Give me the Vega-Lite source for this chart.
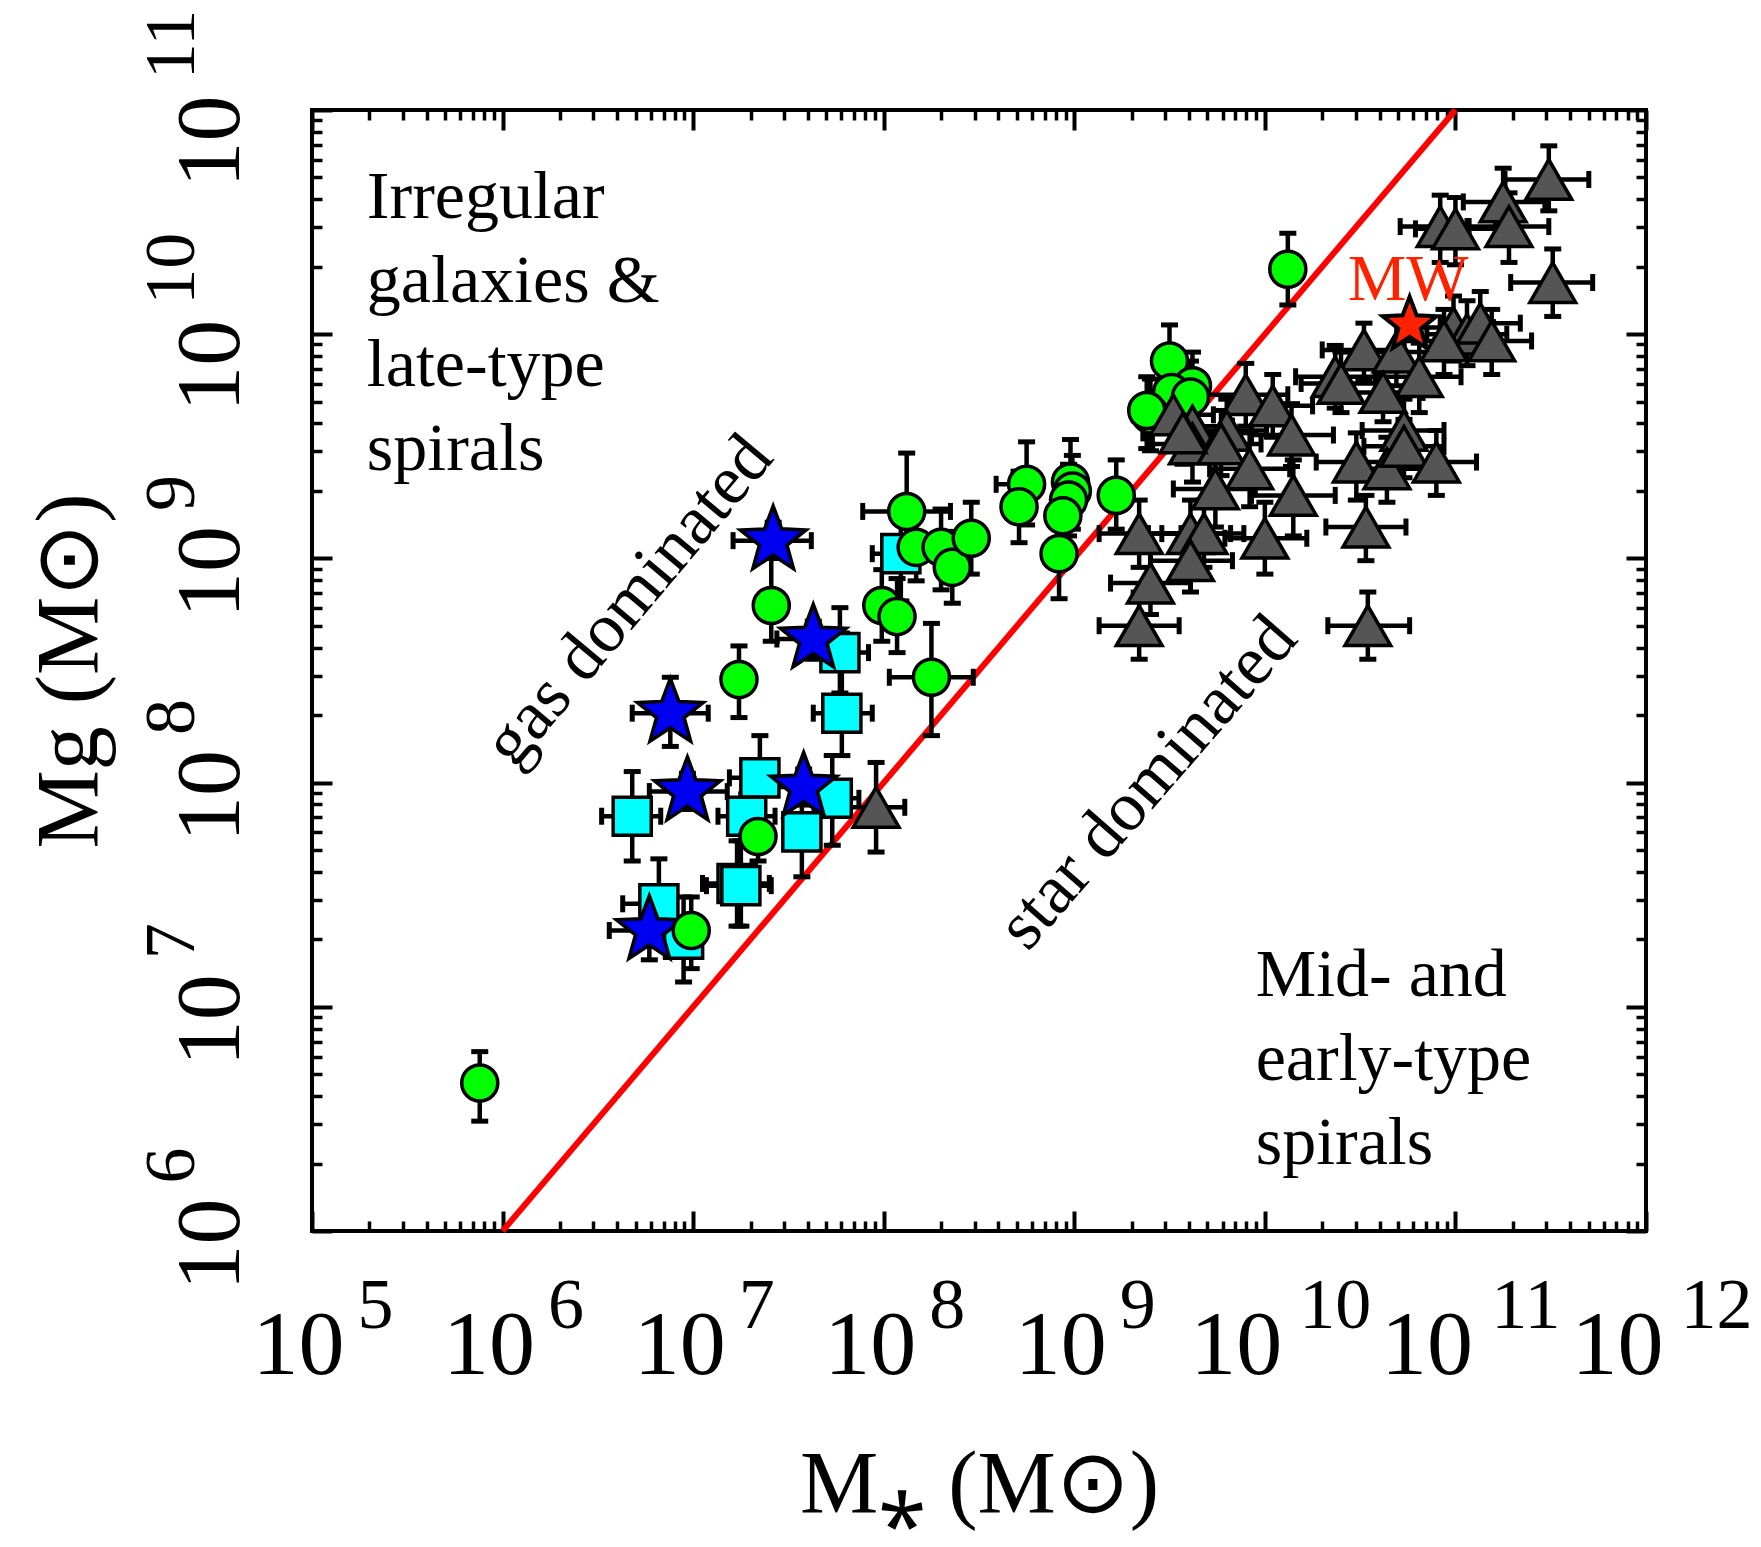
{
  "$schema": "https://vega.github.io/schema/vega-lite/v6.json",
  "width": 1334,
  "height": 1121,
  "autosize": {"type": "none"},
  "padding": {"left": 312, "top": 110, "right": 115, "bottom": 316},
  "background": "white",
  "config": {"view": {"stroke": "black", "strokeWidth": 4, "fill": "white"}},
  "datasets": {
    "galaxies": [
      {"t":"sq","x":5.89e7,"y":3.80e8,"xl":4.17e7,"xh":8.32e7,"yl":2.51e8,"yh":6.03e8},
      {"t":"sq","x":6.03e7,"y":2.04e8,"xl":4.27e7,"xh":8.71e7,"yl":1.32e8,"yh":3.24e8},
      {"t":"sq","x":4.79e6,"y":7.08e7,"xl":3.31e6,"xh":6.76e6,"yl":4.47e7,"yh":1.12e8},
      {"t":"sq","x":2.24e7,"y":1.05e8,"xl":1.55e7,"xh":2.75e7,"yl":6.61e7,"yh":1.62e8},
      {"t":"sq","x":5.37e7,"y":8.51e7,"xl":3.98e7,"xh":7.41e7,"yl":5.25e7,"yh":1.32e8},
      {"t":"sq","x":1.91e7,"y":7.08e7,"xl":1.35e7,"xh":2.69e7,"yl":5.62e7,"yh":8.91e7},
      {"t":"sq","x":3.72e7,"y":6.03e7,"xl":3.31e7,"xh":4.17e7,"yl":3.80e7,"yh":9.55e7},
      {"t":"sq","x":1.70e7,"y":3.55e7,"xl":1.12e7,"xh":2.51e7,"yl":2.29e7,"yh":5.50e7},
      {"t":"sq","x":1.78e7,"y":3.47e7,"xl":1.175e7,"xh":2.57e7,"yl":2.29e7,"yh":5.50e7},
      {"t":"sq","x":6.61e6,"y":2.88e7,"xl":4.27e6,"xh":7.94e6,"yl":1.86e7,"yh":4.57e7},
      {"t":"sq","x":8.91e6,"y":2.00e7,"xl":7.94e6,"xh":9.77e6,"yl":1.29e7,"yh":3.09e7},
      {"t":"sq","x":1.23e8,"y":1.05e9,"xl":8.71e7,"xh":1.74e8,"yl":6.46e8,"yh":1.585e9},
      {"t":"star","x":2.63e7,"y":1.20e9,"xl":1.62e7,"xh":4.17e7,"yl":1.00e9,"yh":1.45e9},
      {"t":"star","x":4.27e7,"y":4.37e8,"xl":2.75e7,"xh":6.46e7,"yl":3.55e8,"yh":5.25e8},
      {"t":"star","x":7.59e6,"y":2.04e8,"xl":4.79e6,"xh":1.20e7,"yl":1.45e8,"yh":2.95e8},
      {"t":"star","x":9.33e6,"y":9.12e7,"xl":5.89e6,"xh":1.51e7,"yl":7.59e7,"yh":1.10e8},
      {"t":"star","x":3.80e7,"y":9.55e7,"xl":2.63e7,"xh":5.62e7,"yl":7.94e7,"yh":1.15e8},
      {"t":"star","x":5.89e6,"y":2.19e7,"xl":3.63e6,"xh":9.55e6,"yl":1.62e7,"yh":2.95e7},
      {"t":"gc","x":7.59e5,"y":4.57e6,"xl":6.92e5,"xh":8.32e5,"yl":3.09e6,"yh":6.31e6},
      {"t":"gc","x":2.57e7,"y":6.17e8,"xl":2.34e7,"xh":2.82e7,"yl":4.27e8,"yh":1.00e9},
      {"t":"gc","x":1.74e7,"y":2.88e8,"xl":1.585e7,"xh":1.91e7,"yl":1.95e8,"yh":4.07e8},
      {"t":"gc","x":2.19e7,"y":5.75e7,"xl":2.00e7,"xh":2.40e7,"yl":4.47e7,"yh":7.24e7},
      {"t":"gc","x":9.77e6,"y":2.19e7,"xl":8.91e6,"xh":1.07e7,"yl":1.48e7,"yh":3.09e7},
      {"t":"gc","x":1.32e8,"y":1.62e9,"xl":7.76e7,"xh":2.24e8,"yl":9.12e8,"yh":2.95e9},
      {"t":"gc","x":1.48e8,"y":1.12e9,"xl":1.35e8,"xh":1.62e8,"yl":7.94e8,"yh":1.585e9},
      {"t":"gc","x":2.00e8,"y":1.12e9,"xl":1.82e8,"xh":2.19e8,"yl":7.24e8,"yh":1.66e9},
      {"t":"gc","x":2.29e8,"y":9.12e8,"xl":2.09e8,"xh":2.51e8,"yl":6.31e8,"yh":1.32e9},
      {"t":"gc","x":2.88e8,"y":1.23e9,"xl":2.57e8,"xh":3.16e8,"yl":8.51e8,"yh":1.78e9},
      {"t":"gc","x":9.77e7,"y":6.17e8,"xl":8.91e7,"xh":1.07e8,"yl":4.27e8,"yh":8.91e8},
      {"t":"gc","x":1.175e8,"y":5.50e8,"xl":1.07e8,"xh":1.29e8,"yl":3.80e8,"yh":8.13e8},
      {"t":"gc","x":1.78e8,"y":2.95e8,"xl":1.07e8,"xh":2.95e8,"yl":1.62e8,"yh":5.13e8},
      {"t":"gc","x":5.62e8,"y":2.14e9,"xl":3.89e8,"xh":6.31e8,"yl":1.41e9,"yh":3.31e9},
      {"t":"gc","x":5.13e8,"y":1.70e9,"xl":4.57e8,"xh":5.62e8,"yl":1.175e9,"yh":2.45e9},
      {"t":"gc","x":9.55e8,"y":2.19e9,"xl":8.51e8,"xh":1.05e9,"yl":1.41e9,"yh":3.39e9},
      {"t":"gc","x":9.77e8,"y":2.00e9,"xl":8.91e8,"xh":1.10e9,"yl":1.35e9,"yh":2.88e9},
      {"t":"gc","x":9.33e8,"y":1.82e9,"xl":8.51e8,"xh":1.02e9,"yl":1.26e9,"yh":2.63e9},
      {"t":"gc","x":8.71e8,"y":1.55e9,"xl":7.76e8,"xh":9.55e8,"yl":1.07e9,"yh":2.29e9},
      {"t":"gc","x":8.32e8,"y":1.05e9,"xl":7.59e8,"xh":9.33e8,"yl":6.61e8,"yh":1.585e9},
      {"t":"gc","x":1.66e9,"y":1.91e9,"xl":1.51e9,"xh":1.82e9,"yl":1.35e9,"yh":2.75e9},
      {"t":"gc","x":1.32e10,"y":1.95e10,"xl":1.20e10,"xh":1.45e10,"yl":1.35e10,"yh":2.82e10},
      {"t":"gc","x":3.16e9,"y":7.59e9,"xl":2.88e9,"xh":3.47e9,"yl":5.25e9,"yh":1.10e10},
      {"t":"gc","x":4.17e9,"y":5.89e9,"xl":3.80e9,"xh":4.57e9,"yl":3.98e9,"yh":8.32e9},
      {"t":"gc","x":3.24e9,"y":5.50e9,"xl":2.95e9,"xh":3.55e9,"yl":3.80e9,"yh":7.94e9},
      {"t":"gc","x":4.07e9,"y":5.25e9,"xl":3.63e9,"xh":4.47e9,"yl":3.63e9,"yh":7.59e9},
      {"t":"gc","x":2.51e9,"y":4.37e9,"xl":2.29e9,"xh":2.75e9,"yl":3.02e9,"yh":6.31e9},
      {"t":"gc","x":2.40e9,"y":4.57e9,"xl":2.19e9,"xh":2.63e9,"yl":3.09e9,"yh":6.46e9},
      {"t":"tri","x":3.09e11,"y":4.90e10,"xl":1.82e11,"xh":5.01e11,"yl":3.55e10,"yh":6.92e10},
      {"t":"tri","x":1.78e11,"y":3.89e10,"xl":1.10e11,"xh":2.95e11,"yl":2.82e10,"yh":5.50e10},
      {"t":"tri","x":1.91e11,"y":3.02e10,"xl":1.18e11,"xh":3.09e11,"yl":2.09e10,"yh":4.27e10},
      {"t":"tri","x":8.32e10,"y":3.02e10,"xl":5.13e10,"xh":1.15e11,"yl":2.09e10,"yh":4.17e10},
      {"t":"tri","x":1.00e11,"y":2.95e10,"xl":6.17e10,"xh":1.62e11,"yl":2.04e10,"yh":4.07e10},
      {"t":"tri","x":3.24e11,"y":1.70e10,"xl":1.95e11,"xh":5.25e11,"yl":1.20e10,"yh":2.40e10},
      {"t":"tri","x":9.77e10,"y":1.07e10,"xl":6.03e10,"xh":1.585e11,"yl":7.59e9,"yh":1.48e10},
      {"t":"tri","x":1.15e11,"y":1.00e10,"xl":7.08e10,"xh":1.86e11,"yl":7.24e9,"yh":1.41e10},
      {"t":"tri","x":1.35e11,"y":1.12e10,"xl":8.32e10,"xh":2.19e11,"yl":7.94e9,"yh":1.55e10},
      {"t":"tri","x":1.55e11,"y":9.33e9,"xl":9.55e10,"xh":2.51e11,"yl":6.61e9,"yh":1.29e10},
      {"t":"tri","x":8.71e10,"y":9.33e9,"xl":5.37e10,"xh":1.45e11,"yl":6.61e9,"yh":1.29e10},
      {"t":"tri","x":3.31e10,"y":8.51e9,"xl":2.00e10,"xh":5.37e10,"yl":6.17e9,"yh":1.12e10},
      {"t":"tri","x":2.34e10,"y":6.46e9,"xl":1.45e10,"xh":3.80e10,"yl":4.68e9,"yh":8.91e9},
      {"t":"tri","x":2.51e10,"y":6.03e9,"xl":1.55e10,"xh":4.07e10,"yl":4.47e9,"yh":8.32e9},
      {"t":"tri","x":4.90e10,"y":8.32e9,"xl":3.02e10,"xh":7.94e10,"yl":5.89e9,"yh":1.15e10},
      {"t":"tri","x":6.46e10,"y":6.46e9,"xl":3.98e10,"xh":1.07e11,"yl":4.47e9,"yh":9.12e9},
      {"t":"tri","x":4.17e10,"y":5.50e9,"xl":2.57e10,"xh":6.76e10,"yl":4.07e9,"yh":7.41e9},
      {"t":"tri","x":7.94e9,"y":5.37e9,"xl":4.90e9,"xh":1.32e10,"yl":3.89e9,"yh":7.41e9},
      {"t":"tri","x":1.10e10,"y":4.79e9,"xl":6.76e9,"xh":1.78e10,"yl":3.47e9,"yh":6.61e9},
      {"t":"tri","x":1.38e10,"y":3.55e9,"xl":8.51e9,"xh":2.29e10,"yl":2.57e9,"yh":4.90e9},
      {"t":"tri","x":4.17e9,"y":3.89e9,"xl":2.57e9,"xh":6.76e9,"yl":2.82e9,"yh":5.37e9},
      {"t":"tri","x":6.31e9,"y":3.72e9,"xl":3.89e9,"xh":1.02e10,"yl":2.69e9,"yh":5.13e9},
      {"t":"tri","x":5.37e10,"y":3.72e9,"xl":3.24e10,"xh":8.71e10,"yl":2.63e9,"yh":5.13e9},
      {"t":"tri","x":4.17e9,"y":3.24e9,"xl":2.57e9,"xh":6.76e9,"yl":2.19e9,"yh":4.57e9},
      {"t":"tri","x":5.89e9,"y":3.24e9,"xl":3.55e9,"xh":9.55e9,"yl":2.34e9,"yh":4.57e9},
      {"t":"tri","x":8.32e9,"y":2.51e9,"xl":5.13e9,"xh":1.35e10,"yl":1.70e9,"yh":3.63e9},
      {"t":"tri","x":5.50e9,"y":2.04e9,"xl":3.31e9,"xh":8.91e9,"yl":1.38e9,"yh":2.95e9},
      {"t":"tri","x":1.41e10,"y":1.91e9,"xl":8.51e9,"xh":2.34e10,"yl":1.26e9,"yh":2.75e9},
      {"t":"tri","x":3.02e10,"y":2.69e9,"xl":1.86e10,"xh":4.90e10,"yl":1.82e9,"yh":3.63e9},
      {"t":"tri","x":4.37e10,"y":2.51e9,"xl":2.63e10,"xh":7.08e10,"yl":1.78e9,"yh":3.47e9},
      {"t":"tri","x":5.37e10,"y":3.16e9,"xl":3.31e10,"xh":8.71e10,"yl":2.29e9,"yh":4.17e9},
      {"t":"tri","x":7.94e10,"y":2.69e9,"xl":4.90e10,"xh":1.29e11,"yl":1.91e9,"yh":3.72e9},
      {"t":"tri","x":3.39e10,"y":1.38e9,"xl":2.09e10,"xh":5.50e10,"yl":9.77e8,"yh":1.91e9},
      {"t":"tri","x":2.19e9,"y":1.29e9,"xl":1.35e9,"xh":3.63e9,"yl":9.12e8,"yh":1.82e9},
      {"t":"tri","x":4.07e9,"y":1.29e9,"xl":2.45e9,"xh":6.61e9,"yl":9.12e8,"yh":1.82e9},
      {"t":"tri","x":4.79e9,"y":1.29e9,"xl":2.88e9,"xh":7.76e9,"yl":9.12e8,"yh":1.82e9},
      {"t":"tri","x":4.07e9,"y":9.77e8,"xl":2.51e9,"xh":6.76e9,"yl":7.08e8,"yh":1.38e9},
      {"t":"tri","x":1.00e10,"y":1.23e9,"xl":6.17e9,"xh":1.66e10,"yl":8.51e8,"yh":1.78e9},
      {"t":"tri","x":2.51e9,"y":7.76e8,"xl":1.55e9,"xh":4.07e9,"yl":5.62e8,"yh":1.07e9},
      {"t":"tri","x":2.19e9,"y":5.01e8,"xl":1.35e9,"xh":3.55e9,"yl":3.55e8,"yh":7.08e8},
      {"t":"tri","x":3.47e10,"y":5.01e8,"xl":2.14e10,"xh":5.75e10,"yl":3.55e8,"yh":7.08e8},
      {"t":"tri","x":9.12e7,"y":7.76e7,"xl":6.46e7,"xh":1.29e8,"yl":4.90e7,"yh":1.23e8},
      {"t":"tri","x":3.31e9,"y":4.37e9,"xl":2.04e9,"xh":5.37e9,"yl":3.09e9,"yh":6.03e9},
      {"t":"tri","x":3.72e9,"y":3.63e9,"xl":2.29e9,"xh":6.03e9,"yl":2.63e9,"yh":5.01e9},
      {"t":"mw","x":5.75e10,"y":1.10e10}
    ]
  },
  "data": {"name": "galaxies"},
  "resolve": {"axis": {"x": "independent", "y": "independent"}},
  "layer": [
    {
      "data": {"values": [{"ms": 1e6, "mg": 1e6}, {"ms": 1e11, "mg": 1e11}]},
      "mark": {"type": "line", "color": "#ff0000", "strokeWidth": 6},
      "encoding": {
        "x": {"field": "ms", "type": "quantitative", "scale": {"type": "log", "domain": [1e5, 1e12], "nice": false},
          "axis": {"orient": "bottom", "values": [1e5,1e6,1e7,1e8,1e9,1e10,1e11,1e12], "ticks": false, "domain": false, "grid": false,
            "labelExpr": "'10'", "labelFont": "Liberation Serif", "labelFontSize": 92, "labelColor": "black",
            "labelBaseline": "alphabetic", "labelAlign": "center", "labelPadding": 142,
            "labelOffset": {"condition": {"test": "datum.value >= 1e10", "value": -29}, "value": -14},
            "labelFlush": false, "labelOverlap": false,
            "title": "M⁎ (M⊙)", "titleFont": "Liberation Serif", "titleFontSize": 88, "titleFontWeight": "normal", "titleColor": "black",
            "titleBaseline": "alphabetic", "titlePadding": 120}},
        "y": {"field": "mg", "type": "quantitative", "scale": {"type": "log", "domain": [1e6, 1e11], "nice": false},
          "axis": {"orient": "left", "values": [1e6,1e7,1e8,1e9,1e10,1e11], "ticks": false, "domain": false, "grid": false,
            "labelExpr": "'10'", "labelFont": "Liberation Serif", "labelFontSize": 92, "labelColor": "black",
            "labelAngle": -90, "labelAlign": "center", "labelBaseline": "alphabetic", "labelPadding": 74,
            "labelOffset": {"condition": {"test": "datum.value >= 1e10", "value": 31}, "value": 13},
            "labelFlush": false, "labelOverlap": false,
            "title": "Mg (M⊙)", "titleFont": "Liberation Serif", "titleFontSize": 88, "titleFontWeight": "normal", "titleColor": "black",
            "titleBaseline": "alphabetic", "titlePadding": 68}}
      }
    },
    {
      "transform": [{"filter": "datum.xl != null"}],
      "mark": {"type": "rule", "color": "black", "strokeWidth": 4.5, "opacity": 1},
      "encoding": {
        "x": {"field": "xl", "type": "quantitative", "axis": null},
        "x2": {"field": "xh"},
        "y": {"field": "y", "type": "quantitative", "axis": null}
      }
    },
    {
      "transform": [{"filter": "datum.yl != null"}],
      "mark": {"type": "rule", "color": "black", "strokeWidth": 4.5, "opacity": 1},
      "encoding": {
        "x": {"field": "x", "type": "quantitative", "axis": null},
        "y": {"field": "yl", "type": "quantitative", "axis": null},
        "y2": {"field": "yh"}
      }
    },
    {
      "transform": [{"filter": "datum.xl != null"}],
      "mark": {"type": "tick", "orient": "vertical", "color": "black", "thickness": 5, "size": 17, "opacity": 1},
      "encoding": {
        "x": {"field": "xl", "type": "quantitative", "axis": null},
        "y": {"field": "y", "type": "quantitative", "axis": null}
      }
    },
    {
      "transform": [{"filter": "datum.xh != null"}],
      "mark": {"type": "tick", "orient": "vertical", "color": "black", "thickness": 5, "size": 17, "opacity": 1},
      "encoding": {
        "x": {"field": "xh", "type": "quantitative", "axis": null},
        "y": {"field": "y", "type": "quantitative", "axis": null}
      }
    },
    {
      "transform": [{"filter": "datum.yl != null"}],
      "mark": {"type": "tick", "orient": "horizontal", "color": "black", "thickness": 5, "size": 17, "opacity": 1},
      "encoding": {
        "x": {"field": "x", "type": "quantitative", "axis": null},
        "y": {"field": "yl", "type": "quantitative", "axis": null}
      }
    },
    {
      "transform": [{"filter": "datum.yh != null"}],
      "mark": {"type": "tick", "orient": "horizontal", "color": "black", "thickness": 5, "size": 17, "opacity": 1},
      "encoding": {
        "x": {"field": "x", "type": "quantitative", "axis": null},
        "y": {"field": "yh", "type": "quantitative", "axis": null}
      }
    },
    {
      "transform": [{"filter": "datum.t == 'sq'"}],
      "mark": {"type": "point", "shape": "square", "filled": true, "fill": "#00ffff", "stroke": "black", "strokeWidth": 3.5, "size": 1450, "opacity": 1},
      "encoding": {
        "x": {"field": "x", "type": "quantitative",
          "axis": {"orient": "bottom", "values": [1e5,1e6,1e7,1e8,1e9,1e10,1e11,1e12], "ticks": false, "domain": false, "grid": false,
            "labelExpr": "'' + round(log(datum.value)/LN10)", "labelFont": "Liberation Serif", "labelFontSize": 72, "labelColor": "black",
            "labelBaseline": "alphabetic", "labelAlign": "center", "labelPadding": 96,
            "labelOffset": {"condition": {"test": "datum.value >= 1e10", "value": 70}, "value": 63},
            "labelFlush": false, "labelOverlap": false, "title": null}},
        "y": {"field": "y", "type": "quantitative",
          "axis": {"orient": "left", "values": [1e6,1e7,1e8,1e9,1e10,1e11], "ticks": false, "domain": false, "grid": false,
            "labelExpr": "'' + round(log(datum.value)/LN10)", "labelFont": "Liberation Serif", "labelFontSize": 72, "labelColor": "black",
            "labelAngle": -90, "labelAlign": "center", "labelBaseline": "alphabetic", "labelPadding": 119,
            "labelOffset": -66, "labelFlush": false, "labelOverlap": false, "title": null}}
      }
    },
    {
      "transform": [{"filter": "datum.t == 'star'"}],
      "mark": {"type": "point", "shape": "M0,-1L0.247,-0.34L0.951,-0.309L0.399,0.13L0.588,0.809L0,0.42L-0.588,0.809L-0.399,0.13L-0.951,-0.309L-0.247,-0.34Z", "filled": true, "fill": "#0000f0", "stroke": "black", "strokeWidth": 3.5, "size": 4800, "opacity": 1},
      "encoding": {
        "x": {"field": "x", "type": "quantitative",
          "axis": {"orient": "bottom", "values": [1e5,1e6,1e7,1e8,1e9,1e10,1e11,1e12], "labels": false, "domain": false, "grid": false, "ticks": true, "tickSize": -20, "tickWidth": 4, "tickColor": "black", "title": null}},
        "y": {"field": "y", "type": "quantitative",
          "axis": {"orient": "left", "values": [1e6,1e7,1e8,1e9,1e10,1e11], "labels": false, "domain": false, "grid": false, "ticks": true, "tickSize": -20, "tickWidth": 4, "tickColor": "black", "title": null}}
      }
    },
    {
      "transform": [{"filter": "datum.t == 'gc'"}],
      "mark": {"type": "point", "shape": "circle", "filled": true, "fill": "#00ff00", "stroke": "black", "strokeWidth": 3.5, "size": 1300, "opacity": 1},
      "encoding": {
        "x": {"field": "x", "type": "quantitative",
          "axis": {"orient": "bottom", "values": [2e5,3e5,4e5,5e5,6e5,7e5,8e5,9e5,2e6,3e6,4e6,5e6,6e6,7e6,8e6,9e6,2e7,3e7,4e7,5e7,6e7,7e7,8e7,9e7,2e8,3e8,4e8,5e8,6e8,7e8,8e8,9e8,2e9,3e9,4e9,5e9,6e9,7e9,8e9,9e9,2e10,3e10,4e10,5e10,6e10,7e10,8e10,9e10,2e11,3e11,4e11,5e11,6e11,7e11,8e11,9e11], "labels": false, "domain": false, "grid": false, "ticks": true, "tickSize": -10, "tickWidth": 3.5, "tickColor": "black", "title": null}},
        "y": {"field": "y", "type": "quantitative",
          "axis": {"orient": "left", "values": [2e6,3e6,4e6,5e6,6e6,7e6,8e6,9e6,2e7,3e7,4e7,5e7,6e7,7e7,8e7,9e7,2e8,3e8,4e8,5e8,6e8,7e8,8e8,9e8,2e9,3e9,4e9,5e9,6e9,7e9,8e9,9e9,2e10,3e10,4e10,5e10,6e10,7e10,8e10,9e10], "labels": false, "domain": false, "grid": false, "ticks": true, "tickSize": -10, "tickWidth": 3.5, "tickColor": "black", "title": null}}
      }
    },
    {
      "transform": [{"filter": "datum.t == 'tri'"}],
      "mark": {"type": "point", "shape": "triangle-up", "filled": true, "fill": "#555555", "stroke": "black", "strokeWidth": 3.5, "size": 2100, "opacity": 1},
      "encoding": {
        "x": {"field": "x", "type": "quantitative",
          "axis": {"orient": "top", "values": [1e5,1e6,1e7,1e8,1e9,1e10,1e11,1e12], "labels": false, "domain": false, "grid": false, "ticks": true, "tickSize": -20, "tickWidth": 4, "tickColor": "black", "title": null}},
        "y": {"field": "y", "type": "quantitative",
          "axis": {"orient": "right", "values": [1e6,1e7,1e8,1e9,1e10,1e11], "labels": false, "domain": false, "grid": false, "ticks": true, "tickSize": -20, "tickWidth": 4, "tickColor": "black", "title": null}}
      }
    },
    {
      "transform": [{"filter": "datum.t == 'mw'"}],
      "mark": {"type": "point", "shape": "M0,-1L0.247,-0.34L0.951,-0.309L0.399,0.13L0.588,0.809L0,0.42L-0.588,0.809L-0.399,0.13L-0.951,-0.309L-0.247,-0.34Z", "filled": true, "fill": "#ff2200", "stroke": "black", "strokeWidth": 4, "size": 3200, "opacity": 1},
      "encoding": {
        "x": {"field": "x", "type": "quantitative",
          "axis": {"orient": "top", "values": [2e5,3e5,4e5,5e5,6e5,7e5,8e5,9e5,2e6,3e6,4e6,5e6,6e6,7e6,8e6,9e6,2e7,3e7,4e7,5e7,6e7,7e7,8e7,9e7,2e8,3e8,4e8,5e8,6e8,7e8,8e8,9e8,2e9,3e9,4e9,5e9,6e9,7e9,8e9,9e9,2e10,3e10,4e10,5e10,6e10,7e10,8e10,9e10,2e11,3e11,4e11,5e11,6e11,7e11,8e11,9e11], "labels": false, "domain": false, "grid": false, "ticks": true, "tickSize": -10, "tickWidth": 3.5, "tickColor": "black", "title": null}},
        "y": {"field": "y", "type": "quantitative",
          "axis": {"orient": "right", "values": [2e6,3e6,4e6,5e6,6e6,7e6,8e6,9e6,2e7,3e7,4e7,5e7,6e7,7e7,8e7,9e7,2e8,3e8,4e8,5e8,6e8,7e8,8e8,9e8,2e9,3e9,4e9,5e9,6e9,7e9,8e9,9e9,2e10,3e10,4e10,5e10,6e10,7e10,8e10,9e10], "labels": false, "domain": false, "grid": false, "ticks": true, "tickSize": -10, "tickWidth": 3.5, "tickColor": "black", "title": null}}
      }
    },
    {
      "data": {"values": [{}]},
      "mark": {"type": "text", "text": ["Irregular", "galaxies &", "late-type", "spirals"], "font": "Liberation Serif", "fontSize": 68, "lineHeight": 84, "align": "left", "baseline": "alphabetic", "color": "black"},
      "encoding": {
        "x": {"datum": 1.94e5, "type": "quantitative", "axis": null},
        "y": {"datum": 3.30e10, "type": "quantitative", "axis": null}
      }
    },
    {
      "data": {"values": [{}]},
      "mark": {"type": "text", "text": ["Mid- and", "early-type", "spirals"], "font": "Liberation Serif", "fontSize": 68, "lineHeight": 84, "align": "left", "baseline": "alphabetic", "color": "black"},
      "encoding": {
        "x": {"datum": 8.95e9, "type": "quantitative", "axis": null},
        "y": {"datum": 1.12e7, "type": "quantitative", "axis": null}
      }
    },
    {
      "data": {"values": [{}]},
      "mark": {"type": "text", "text": "gas dominated", "font": "Liberation Serif", "fontSize": 70, "angle": -50, "align": "center", "baseline": "middle", "color": "black"},
      "encoding": {
        "x": {"datum": 4.59e6, "type": "quantitative", "axis": null},
        "y": {"datum": 6.46e8, "type": "quantitative", "axis": null}
      }
    },
    {
      "data": {"values": [{}]},
      "mark": {"type": "text", "text": "star dominated", "font": "Liberation Serif", "fontSize": 70, "angle": -49, "align": "center", "baseline": "middle", "color": "black"},
      "encoding": {
        "x": {"datum": 2.43e9, "type": "quantitative", "axis": null},
        "y": {"datum": 9.98e7, "type": "quantitative", "axis": null}
      }
    },
    {
      "data": {"values": [{}]},
      "mark": {"type": "text", "text": "MW", "font": "Liberation Serif", "fontSize": 66, "align": "left", "baseline": "alphabetic", "color": "#ff2200"},
      "encoding": {
        "x": {"datum": 2.72e10, "type": "quantitative", "axis": null},
        "y": {"datum": 1.42e10, "type": "quantitative", "axis": null}
      }
    }
  ]
}
